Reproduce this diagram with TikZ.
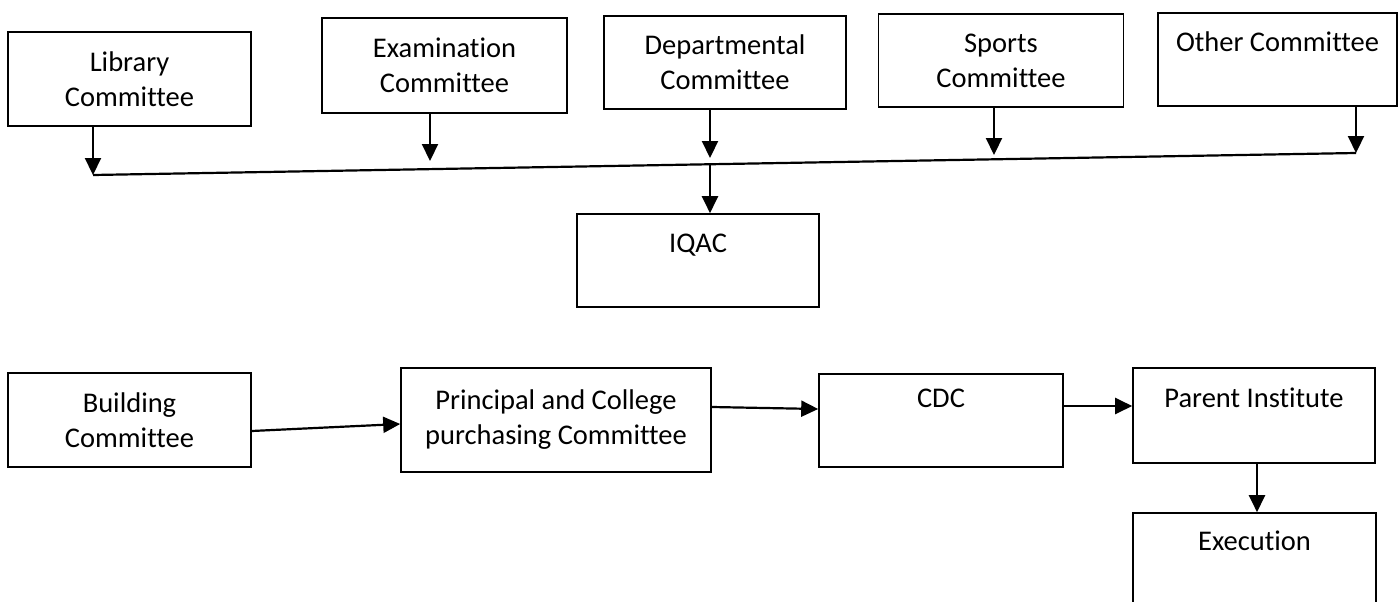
\documentclass[tikz,border=0pt]{standalone}
\usepackage{fontspec}
\setmainfont{Carlito}[Ligatures=NoCommon]
\usetikzlibrary{arrows.meta}
\begin{document}
\begin{tikzpicture}[x=1pt,y=-1pt,
  box/.style={draw=black,line width=1.6pt,rectangle,inner sep=0pt,align=center,
    font=\fontsize{28.5}{35}\selectfont},
  arr/.style={line width=2.2pt,-{Triangle[width=16pt,length=17pt]}},
  bus/.style={line width=2.2pt}]
\useasboundingbox (0,0) rectangle (1398,602);
\clip (0,0) rectangle (1398,602);
\fill[white] (0,0) rectangle (1398,602);
% top row
\node[box,minimum width=243pt,minimum height=94pt] (lib) at (129.5,79) {Library\\Committee};
\node[box,minimum width=245pt,minimum height=95pt] (exam) at (444.5,65.5) {Examination\\Committee};
\node[box,minimum width=242pt,minimum height=93pt] (dept) at (725,62.5) {Departmental\\Committee};
\node[box,minimum width=245pt,minimum height=93pt] (sport) at (1001,60.5) {Sports\\Committee};
\node[box,minimum width=239pt,minimum height=93pt] (other) at (1277.5,59.5) {Other Committee\\\mbox{}};
\node[box,minimum width=242pt,minimum height=93pt] (iqac) at (698,260.5) {IQAC\\\mbox{}};
% bus coordinates
\coordinate (busL) at (93,175);
\coordinate (busR) at (1356,153);
\coordinate (tExam) at (430,161);
\coordinate (tDept) at (710,158);
\coordinate (tSport) at (994,155);
\coordinate (busD) at (710,164);
\draw[bus] (busL) -- (busR);
\draw[arr] ([xshift=-36.5pt]lib.south) -- (busL);
\draw[arr] ([xshift=-14.5pt]exam.south) -- (tExam);
\draw[arr] ([xshift=-15pt]dept.south) -- (tDept);
\draw[arr] ([xshift=-7pt]sport.south) -- (tSport);
\draw[arr] ([xshift=78.5pt]other.south) -- (busR);
\draw[arr] (busD) -- ([xshift=12pt]iqac.north);
% bottom row
\node[box,minimum width=243pt,minimum height=94pt] (build) at (129.5,420) {Building\\Committee};
\node[box,minimum width=310pt,minimum height=104pt] (prin) at (556,420) {Principal and College\\purchasing Committee};
\node[box,minimum width=244pt,minimum height=93pt] (cdc) at (941,420.5) {CDC\\[9pt]\mbox{}};
\node[box,minimum width=242pt,minimum height=95pt] (par) at (1254,415.5) {Parent Institute\\\mbox{}};
\node[box,minimum width=243pt,minimum height=94pt] (exec) at (1254.5,560) {Execution\\[4pt]\mbox{}};
\draw[arr] ([yshift=-11pt]build.east) -- ([yshift=-4pt]prin.west);
\draw[arr] ([yshift=13pt]prin.east) -- ([yshift=11.5pt]cdc.west);
\draw[arr] ([yshift=14.5pt]cdc.east) -- ([yshift=9.5pt]par.west);
\draw[arr] ([xshift=3pt]par.south) -- ([xshift=2.5pt]exec.north);
\end{tikzpicture}
\end{document}
